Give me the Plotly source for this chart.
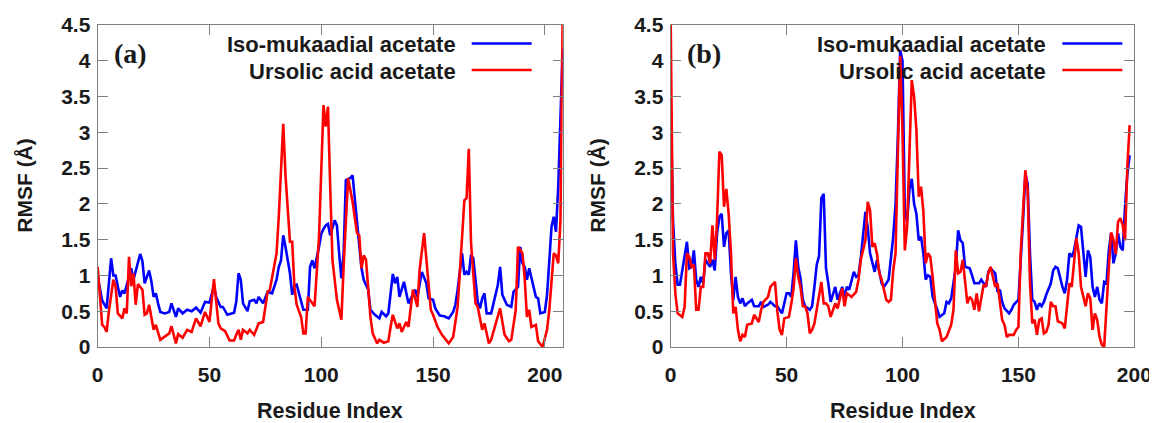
import plotly.graph_objects as go

# ---- panel (a): RMSF per residue ----
a_iso_x = [0, 2, 4, 6, 7, 8, 10, 11, 12, 14, 15, 16, 18, 19, 20, 21, 23, 24, 25, 26, 27, 28, 30, 32, 33,
           35, 36, 38, 40, 42, 44, 46, 48, 50, 52, 53, 55, 56, 58, 61, 62, 63, 64, 65, 67, 68, 70, 71, 72,
           74, 76, 78, 80, 81, 82, 83, 84, 85, 86, 87, 88, 89, 91, 92, 94, 95, 96, 97, 99, 100, 101, 102,
           103, 104, 106, 107, 108, 109, 110, 111, 112, 113, 114, 115, 116, 117, 118, 119, 121, 122, 124,
           126, 127, 129, 130, 132, 133, 134, 135, 137, 139, 142, 143, 145, 147, 148, 150, 151, 153, 155,
           157, 159, 160, 161, 162, 163, 164, 165, 166, 167, 168, 170, 171, 172, 173, 174, 176, 177, 179,
           180, 181, 183, 185, 186, 188, 189, 190, 191, 192, 193, 194, 196, 197, 198, 200, 201, 202, 203,
           204, 205, 206, 207, 208]
a_iso_y = [0.98, 0.65, 0.54, 1.24, 1.0, 1.0, 0.70, 0.79, 0.75, 0.97, 1.10, 0.94, 1.17, 1.30, 1.20, 0.89,
           1.07, 0.92, 0.70, 0.75, 0.61, 0.49, 0.47, 0.49, 0.61, 0.42, 0.54, 0.47, 0.52, 0.50, 0.55, 0.48,
           0.63, 0.62, 0.85, 0.70, 0.56, 0.56, 0.45, 0.48, 0.64, 1.03, 0.94, 0.61, 0.50, 0.64, 0.66, 0.61,
           0.70, 0.61, 0.77, 0.75, 0.94, 1.12, 1.21, 1.56, 1.40, 1.20, 1.03, 0.73, 0.85, 0.87, 0.64, 0.52,
           0.52, 1.12, 1.21, 1.10, 1.40, 1.58, 1.65, 1.70, 1.72, 1.56, 1.77, 1.70, 1.31, 0.96, 1.30, 2.33,
           2.35, 2.36, 2.40, 2.06, 1.68, 1.40, 1.10, 0.94, 0.80, 0.52, 0.45, 0.40, 0.49, 0.43, 0.47, 1.02,
           0.89, 0.98, 0.70, 0.91, 0.61, 0.80, 0.70, 1.05, 0.89, 0.68, 0.66, 0.54, 0.44, 0.43, 0.40, 0.49,
           0.59, 0.80, 1.03, 1.31, 1.01, 1.05, 1.01, 1.29, 1.24, 0.63, 0.54, 0.68, 0.75, 0.47, 0.47, 0.59,
           0.87, 1.12, 0.73, 0.59, 0.56, 0.77, 0.84, 1.40, 1.17, 1.12, 0.94, 1.10, 0.98, 0.70, 0.68, 0.47,
           0.49, 0.73, 1.20, 1.68, 1.82, 1.61, 2.24, 3.30, 4.17]

a_urs_x = [0, 2, 3, 4, 5, 7, 8, 9, 11, 12, 13, 14, 15, 16, 17, 18, 20, 21, 22, 23, 25, 26, 28, 30, 32,
           33, 35, 36, 38, 40, 42, 44, 46, 48, 50, 52, 53, 54, 55, 57, 59, 61, 62, 63, 64, 65, 67, 68, 70,
           71, 72, 74, 76, 77, 80, 81, 82, 83, 84, 85, 86, 87, 88, 89, 91, 92, 93, 94, 96, 97, 99, 100,
           101, 102, 103, 104, 105, 107, 109, 110, 112, 114, 116, 117, 118, 119, 120, 122, 123, 125, 126,
           128, 130, 131, 132, 134, 135, 136, 138, 139, 141, 143, 144, 146, 147, 149, 150, 152, 154, 156,
           157, 159, 161, 163, 164, 165, 166, 167, 169, 170, 172, 173, 175, 176, 178, 179, 180, 182, 184,
           185, 187, 188, 190, 191, 192, 193, 194, 196, 197, 199, 201, 202, 204, 205, 206, 207, 208]
a_urs_y = [1.12, 0.31, 0.28, 0.21, 0.50, 0.94, 0.85, 0.47, 0.40, 0.54, 0.47, 1.26, 0.85, 1.03, 0.59,
           0.88, 0.80, 0.45, 0.47, 0.59, 0.24, 0.31, 0.10, 0.15, 0.19, 0.29, 0.05, 0.18, 0.13, 0.24, 0.21,
           0.40, 0.29, 0.49, 0.35, 0.95, 0.60, 0.33, 0.26, 0.22, 0.09, 0.09, 0.17, 0.24, 0.10, 0.24, 0.19,
           0.24, 0.17, 0.24, 0.33, 0.35, 0.77, 0.80, 1.31, 1.82, 2.52, 3.12, 2.40, 2.00, 1.47, 1.47, 0.84,
           0.59, 0.42, 0.19, 0.19, 0.70, 0.61, 0.57, 1.54, 2.50, 3.38, 3.08, 3.36, 2.24, 1.22, 0.66, 0.38,
           1.12, 2.36, 2.03, 1.59, 1.56, 1.10, 1.28, 1.22, 0.42, 0.19, 0.05, 0.10, 0.06, 0.08, 0.28, 0.45,
           0.26, 0.33, 0.21, 0.35, 0.28, 0.80, 0.56, 1.08, 1.59, 1.26, 0.52, 0.45, 0.28, 0.17, 0.10, 0.05,
           0.14, 0.56, 1.54, 2.05, 2.08, 2.77, 1.45, 0.61, 0.56, 0.24, 0.33, 0.05, 0.10, 0.31, 0.40, 0.54,
           0.17, 0.08, 0.10, 0.52, 1.40, 1.31, 0.96, 0.42, 0.52, 0.28, 0.31, 0.08, 0.0, 0.24, 0.52, 1.31,
           1.28, 1.17, 1.77, 4.70]

# ---- panel (b) ----
b_iso_x = [0, 1, 2, 3, 4, 6, 7, 8, 9, 10, 11, 12, 13, 14, 15, 17, 18, 19, 20, 21, 22, 23, 24, 25, 26,
           27, 28, 29, 30, 31, 32, 33, 35, 36, 38, 39, 40, 42, 43, 45, 46, 48, 50, 51, 52, 53, 54, 55, 56,
           57, 58, 60, 61, 62, 63, 64, 65, 66, 67, 68, 69, 71, 72, 74, 75, 76, 77, 79, 80, 81, 82, 84, 85,
           86, 88, 89, 90, 91, 92, 94, 96, 97, 98, 99, 100, 101, 102, 103, 104, 105, 106, 107, 108, 109,
           110, 111, 112, 113, 115, 116, 118, 119, 120, 121, 123, 124, 125, 126, 127, 129, 130, 131, 133,
           134, 136, 137, 138, 140, 141, 142, 143, 144, 146, 147, 148, 150, 152, 153, 154, 155, 156, 157,
           158, 159, 160, 161, 162, 164, 165, 166, 167, 168, 169, 170, 171, 172, 173, 174, 175, 176, 177,
           178, 179, 180, 181, 182, 183, 184, 185, 186, 187, 188, 189, 190, 191, 192, 193, 194, 195, 196,
           197, 198]
b_iso_y = [3.38, 1.77, 1.17, 0.87, 0.87, 1.25, 1.47, 1.10, 1.12, 1.35, 0.94, 0.84, 0.98, 0.89, 1.22,
           1.12, 1.22, 1.07, 1.59, 1.82, 1.86, 1.40, 1.59, 1.63, 1.03, 0.66, 0.98, 0.70, 0.61, 0.68, 0.57,
           0.61, 0.66, 0.57, 0.57, 0.63, 0.56, 0.59, 0.63, 0.57, 0.57, 0.47, 0.75, 0.75, 0.70, 1.03, 1.49,
           1.12, 0.96, 0.66, 0.57, 0.52, 0.57, 0.84, 1.15, 1.27, 2.08, 2.14, 1.10, 0.89, 0.63, 0.84, 0.66,
           0.84, 0.70, 0.84, 0.80, 1.05, 0.98, 1.00, 1.24, 1.89, 1.67, 1.31, 1.05, 1.22, 1.03, 0.89, 0.84,
           0.94, 1.54, 2.00, 2.93, 4.15, 4.00, 1.90, 1.75, 2.20, 2.35, 2.00, 1.86, 1.49, 1.54, 1.31, 0.94,
           1.00, 0.98, 0.70, 0.52, 0.42, 0.47, 0.63, 0.61, 0.68, 1.12, 1.63, 1.49, 1.45, 1.12, 1.10, 1.00,
           0.89, 0.89, 0.94, 0.84, 1.05, 1.10, 1.03, 0.77, 0.80, 0.63, 0.54, 0.47, 0.52, 0.59, 0.66, 1.77,
           2.42, 2.28, 1.31, 0.66, 0.63, 0.52, 0.61, 0.57, 0.63, 0.73, 0.89, 1.07, 1.12, 1.10, 0.95, 0.84,
           0.75, 0.94, 1.31, 1.26, 1.35, 1.55, 1.70, 1.68, 1.31, 0.98, 1.35, 1.26, 0.84, 0.70, 0.84, 0.66,
           0.61, 0.91, 0.89, 1.35, 1.59, 1.17, 1.31, 1.59, 1.40, 1.35, 1.96, 2.42, 2.68]

b_urs_x = [0, 1, 2, 3, 5, 6, 7, 8, 9, 10, 11, 12, 13, 14, 15, 16, 17, 18, 19, 20, 21, 22, 23, 24, 25,
           26, 27, 28, 29, 30, 31, 32, 33, 35, 36, 37, 38, 39, 40, 42, 43, 45, 46, 47, 48, 49, 51, 52, 53,
           54, 55, 56, 57, 58, 59, 60, 61, 62, 63, 65, 66, 67, 68, 69, 71, 72, 74, 75, 76, 78, 80, 81, 82,
           84, 85, 86, 87, 88, 89, 90, 91, 93, 94, 95, 96, 97, 98, 99, 100, 101, 102, 103, 104, 105, 106,
           107, 108, 109, 110, 111, 112, 113, 114, 115, 116, 117, 119, 120, 121, 122, 123, 124, 125, 126,
           127, 128, 129, 130, 131, 132, 133, 135, 136, 137, 138, 140, 141, 142, 143, 144, 145, 146, 148,
           149, 150, 151, 153, 154, 155, 156, 157, 158, 159, 160, 161, 162, 163, 164, 165, 166, 167, 169,
           170, 171, 172, 173, 174, 175, 176, 177, 179, 180, 181, 182, 183, 184, 185, 186, 187, 188, 189,
           190, 191, 192, 193, 194, 195, 196, 197, 198]
b_urs_y = [4.55, 1.31, 0.75, 0.47, 0.42, 0.56, 1.31, 1.26, 1.12, 1.15, 0.52, 0.52, 0.84, 0.84, 1.31,
           1.31, 1.17, 1.70, 1.22, 1.77, 2.73, 2.68, 1.96, 2.21, 1.86, 1.31, 0.47, 0.56, 0.24, 0.08, 0.17,
           0.14, 0.31, 0.33, 0.45, 0.40, 0.35, 0.52, 0.63, 0.70, 0.84, 0.91, 0.50, 0.24, 0.17, 0.40, 0.42,
           0.60, 0.82, 1.24, 0.98, 0.84, 0.57, 0.57, 0.47, 0.19, 0.24, 0.33, 0.54, 0.91, 0.61, 0.61, 0.57,
           0.42, 0.61, 0.54, 0.82, 0.57, 0.75, 0.70, 0.77, 0.94, 1.22, 1.49, 2.03, 1.91, 1.40, 1.45, 1.30,
           1.03, 0.94, 0.66, 0.63, 0.66, 1.07, 1.31, 2.70, 4.07, 3.00, 1.35, 1.68, 2.60, 3.73, 3.50, 3.03,
           2.10, 2.24, 1.90, 1.17, 1.31, 1.26, 0.98, 0.61, 0.33, 0.24, 0.08, 0.14, 0.24, 0.31, 0.52, 1.35,
           1.03, 1.05, 1.22, 0.94, 0.61, 0.70, 0.66, 0.52, 0.75, 0.50, 0.87, 0.84, 1.03, 1.12, 0.84, 0.89,
           0.66, 0.38, 0.31, 0.14, 0.17, 0.17, 0.24, 0.28, 1.31, 2.47, 2.19, 0.89, 0.33, 0.38, 0.17, 0.38,
           0.40, 0.19, 0.21, 0.31, 0.63, 0.57, 0.57, 0.36, 0.33, 0.26, 0.57, 0.89, 0.84, 1.17, 1.52, 1.31,
           0.84, 0.57, 0.75, 0.68, 0.24, 0.47, 0.38, 0.14, 0.03, 0.0, 0.60, 1.10, 1.60, 1.50, 1.30, 1.75,
           1.80, 1.70, 1.49, 2.52, 3.10]

series_names = ["Iso-mukaadial acetate", "Ursolic acid acetate"]
panel_labels = ["(a)", "(b)"]
y_ticks = [0, 0.5, 1, 1.5, 2, 2.5, 3, 3.5, 4, 4.5]
x_ticks = [0, 50, 100, 150, 200]

# the page body has an 8px margin, so the figure is drawn 8px in from the window corner
OFF = 8
W, H = 1157 - OFF, 423 - OFF
BLUE = "#0000ff"
RED = "#ff0000"
GRID = "#808080"
TXT = "#1a1a1a"
SANS = "Liberation Sans, Arial, sans-serif"
SERIF = "Liberation Serif, Times New Roman, serif"

# plot boxes in window pixels (left, right), shared top/bottom
boxes = [(97.7, 562.7), (670.7, 1134.3)]
top_px, bot_px = 25, 347


def px(x):
    return (x - OFF) / W


def py(y):
    return 1 - (y - OFF) / H


fig = go.Figure()

data = [(a_iso_x, a_iso_y, a_urs_x, a_urs_y, 208), (b_iso_x, b_iso_y, b_urs_x, b_urs_y, 200)]
for i, (ix, iy, ux, uy, xmax) in enumerate(data):
    xa = "x" if i == 0 else "x2"
    ya = "y" if i == 0 else "y2"
    fig.add_trace(go.Scatter(x=ix, y=iy, mode="lines", name=series_names[0],
                             line=dict(color=BLUE, width=2.6), xaxis=xa, yaxis=ya, showlegend=False))
    fig.add_trace(go.Scatter(x=ux, y=uy, mode="lines", name=series_names[1],
                             line=dict(color=RED, width=2.6), xaxis=xa, yaxis=ya, showlegend=False))

    l, r = boxes[i]
    ax = dict(domain=[px(l), px(r)], range=[0, xmax], tickvals=x_ticks, ticks="inside", ticklen=10,
              tickcolor=GRID, tickwidth=1, showline=True, linecolor=GRID, linewidth=1.2, mirror="ticks",
              showgrid=False, zeroline=False, ticklabelstandoff=9, automargin=False,
              tickfont=dict(family=SANS, size=21, color=TXT, weight="bold"))
    ay = dict(domain=[py(bot_px), py(top_px)], range=[0, 4.5], tickvals=y_ticks, ticks="inside",
              ticklen=10, tickcolor=GRID, tickwidth=1, showline=True, linecolor=GRID, linewidth=1.2,
              mirror="ticks", showgrid=False, zeroline=False, ticklabelstandoff=2, automargin=False,
              tickfont=dict(family=SANS, size=21, color=TXT, weight="bold"))
    if i == 0:
        ax["anchor"] = "y"
        ay["anchor"] = "x"
        fig.update_layout(xaxis=ax, yaxis=ay)
    else:
        ax["anchor"] = "y2"
        ay["anchor"] = "x2"
        fig.update_layout(xaxis2=ax, yaxis2=ay)

    # axis titles
    fig.add_annotation(text="Residue Index", xref="paper", yref="paper", x=px((l + r) / 2), y=py(411),
                       xanchor="center", yanchor="middle", showarrow=False,
                       font=dict(family=SANS, size=21.5, color=TXT, weight="bold"))
    fig.add_annotation(text="RMSF (Å)", xref="paper", yref="paper", x=px(l - 74), y=py(186),
                       xanchor="center", yanchor="middle", textangle=-90, showarrow=False,
                       font=dict(family=SANS, size=21, color=TXT, weight="bold"))
    # panel label
    fig.add_annotation(text=panel_labels[i], xref="paper", yref="paper", x=px(l + 14), y=py(53),
                       xanchor="left", yanchor="middle", showarrow=False,
                       font=dict(family=SERIF, size=28, color=TXT, weight="bold"))
    # legend (text then line sample, as in the original)
    txt_right = l + 360 if i == 0 else l + 377.6
    for k, (name, col) in enumerate(zip(series_names, [BLUE, RED])):
        yy = 45 + 26.5 * k
        fig.add_annotation(text=name, xref="paper", yref="paper", x=px(txt_right), y=py(yy),
                           xanchor="right", yanchor="middle", showarrow=False,
                           font=dict(family=SANS, size=22, color=TXT, weight="bold"))
        fig.add_shape(type="line", xref="paper", yref="paper", x0=px(txt_right + 14),
                      x1=px(txt_right + 74), y0=py(yy - 1.5), y1=py(yy - 1.5),
                      line=dict(color=col, width=2.6))

fig.update_layout(width=W, height=H, margin=dict(l=0, r=0, t=0, b=0),
                  paper_bgcolor="white", plot_bgcolor="white", showlegend=False)

fig.write_html("out.html")
